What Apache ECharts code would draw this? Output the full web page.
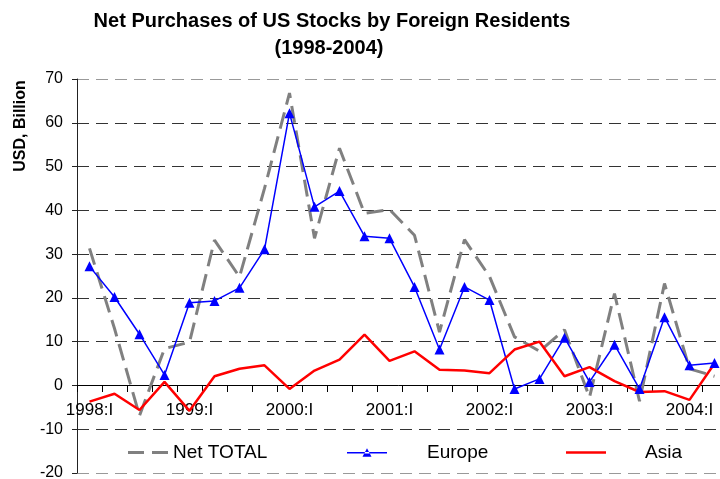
<!DOCTYPE html>
<html>
<head>
<meta charset="utf-8">
<script src="https://cdn.jsdelivr.net/npm/echarts@6/dist/echarts.min.js"></script>
<style>
  html, body { margin: 0; padding: 0; background: #fff; }
  #chart { width: 720px; height: 479px; }
</style>
</head>
<body>
<div id="chart"></div>
<script>
// quarters, 1998:I .. 2004:II
const quarters = [
  '1998:I', '1998:II', '1998:III', '1998:IV',
  '1999:I', '1999:II', '1999:III', '1999:IV',
  '2000:I', '2000:II', '2000:III', '2000:IV',
  '2001:I', '2001:II', '2001:III', '2001:IV',
  '2002:I', '2002:II', '2002:III', '2002:IV',
  '2003:I', '2003:II', '2003:III', '2003:IV',
  '2004:I', '2004:II'
];

const netTotal = [31.3, 13, -6.9, 8.4, 9.9, 33.2, 24.8, 45, 66.8, 33.6, 54.2, 39.3, 40.2,
  34.3, 12.2, 33.3, 24.9, 11.1, 7.8, 12.7, -2.7, 21, -3.6, 23.3, 3.8, 2.1];
const europe = [27.2, 20.2, 11.7, 2.4, 18.9, 19.3, 22.3, 31.1, 62.2, 40.8, 44.4, 34.1, 33.6,
  22.5, 8.2, 22.5, 19.5, -0.8, 1.5, 10.9, 0.8, 9.3, -0.8, 15.6, 4.6, 5.1];
const asia = [-3.7, -1.9, -5.6, 0.8, -5.8, 2.1, 3.8, 4.6, -0.8, 3.4, 5.9, 11.6, 5.6,
  7.8, 3.6, 3.4, 2.8, 8.2, 10, 2.1, 4.2, 1, -1.5, -1.3, -3.3, 5];

const seriesNames = ['Net TOTAL', 'Europe', 'Asia'];

const font = "'Liberation Sans', Arial, sans-serif";

// legend icons drawn like the excel ones (dashes / line+triangle / line)
const icons = [
  'path://M0,0H16V3H0Z M24,0H40V3H24Z',
  'path://M0,5.7H40V7.3H0Z M15.5,10.5H24.5L20,2Z',
  'path://M0,0H40V2.5H0Z'
];

const legendBase = {
  orient: 'horizontal',
  top: 443,
  padding: 0,
  itemWidth: 40,
  itemHeight: 14,
  lineStyle: { width: 0 },
  itemStyle: { borderWidth: 0 },
  textStyle: { fontFamily: font, fontSize: 19, color: '#000' },
  selectedMode: false
};

// split lines -20 .. 70, outer ones lighter like the plot border
const gridColors = ['#999', '#333', '#333', '#333', '#333', '#333', '#333', '#333', '#333', '#999'];

const option = {
  animation: false,
  backgroundColor: '#fff',
  textStyle: { fontFamily: font },
  grid: { left: 77, top: 79, width: 650, height: 394, outerBoundsMode: 'none', containLabel: false },
  legend: [
    Object.assign({}, legendBase, { left: 128, data: [{ name: seriesNames[0], icon: icons[0] }] }),
    Object.assign({}, legendBase, { left: 347, data: [{ name: seriesNames[1], icon: icons[1] }],
      textStyle: Object.assign({}, legendBase.textStyle, { padding: [0, 0, 0, 35] }) }),
    Object.assign({}, legendBase, { left: 566, data: [{ name: seriesNames[2], icon: icons[2] }],
      textStyle: Object.assign({}, legendBase.textStyle, { padding: [0, 0, 0, 34] }) })
  ],
  graphic: [
    {
      type: 'text', x: 332, y: 21,
      style: { text: 'Net Purchases of US Stocks by Foreign Residents', font: 'bold 20px ' + font,
        fill: '#000', textAlign: 'center', textVerticalAlign: 'middle' }
    },
    {
      type: 'text', x: 329, y: 48,
      style: { text: '(1998-2004)', font: 'bold 20px ' + font,
        fill: '#000', textAlign: 'center', textVerticalAlign: 'middle' }
    },
    {
      type: 'text', x: 21, y: 126, rotation: Math.PI / 2,
      style: { text: 'USD, Billion', font: 'bold 16px ' + font,
        fill: '#000', textAlign: 'center', textVerticalAlign: 'middle' }
    }
  ],
  xAxis: {
    type: 'category',
    data: quarters,
    boundaryGap: true,
    position: 'bottom',
    offset: -88, // move axis up onto the zero line
    axisLine: { onZero: false, lineStyle: { color: '#000', width: 1 } },
    axisTick: { show: true, interval: 0, length: 7, lineStyle: { color: '#000' } },
    axisLabel: { interval: 3, margin: 17, fontSize: 17, color: '#000', fontFamily: font },
    splitLine: { show: false }
  },
  yAxis: {
    type: 'value',
    min: -20,
    max: 70,
    interval: 10,
    axisLine: { show: true, lineStyle: { color: '#222', width: 1 } },
    axisTick: { show: true, length: 5, lineStyle: { color: '#222' } },
    axisLabel: { margin: 14, fontSize: 16, color: '#000', fontFamily: font },
    splitLine: { show: true, lineStyle: { color: gridColors, type: [12, 7], width: 1 } }
  },
  series: [
    {
      name: seriesNames[0],
      type: 'line',
      data: netTotal,
      symbol: 'none',
      color: '#808080',
      lineStyle: { color: '#808080', width: 3, type: [17, 8] }
    },
    {
      name: seriesNames[1],
      type: 'line',
      data: europe,
      symbol: 'triangle',
      symbolSize: 10,
      color: '#0000ff',
      itemStyle: { color: '#0000ff' },
      lineStyle: { color: '#0000ff', width: 1.5 }
    },
    {
      name: seriesNames[2],
      type: 'line',
      data: asia,
      symbol: 'none',
      color: '#ff0000',
      lineStyle: { color: '#ff0000', width: 2.5 }
    }
  ]
};

const myChart = echarts.init(document.getElementById('chart'));
myChart.setOption(option);
</script>
</body>
</html>
